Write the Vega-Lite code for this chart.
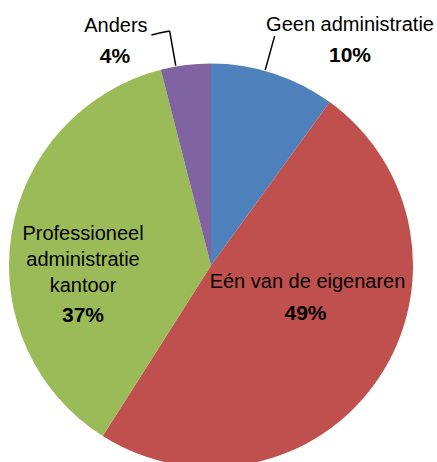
{
  "$schema": "https://vega.github.io/schema/vega-lite/v6.json",
  "width": 422,
  "height": 401,
  "autosize": {"type": "none"},
  "padding": {"left": 0, "top": 65, "right": 15, "bottom": 0},
  "background": "white",
  "config": {"view": {"stroke": null}, "font": "Liberation Sans", "text": {"font": "Liberation Sans", "color": "black"}},
  "data": {
    "values": [
      {"cat": "Geen administratie", "share": 0.10, "idx": 1},
      {"cat": "Eén van de eigenaren", "share": 0.49, "idx": 2},
      {"cat": "Professioneel administratie kantoor", "share": 0.37, "idx": 3},
      {"cat": "Anders", "share": 0.04, "idx": 4}
    ]
  },
  "encoding": {
    "theta": {"field": "share", "type": "quantitative", "stack": true},
    "order": {"field": "idx", "type": "quantitative"}
  },
  "layer": [
    {
      "mark": {"type": "arc", "radius": 202, "strokeWidth": 0},
      "encoding": {
        "color": {
          "field": "cat",
          "type": "nominal",
          "scale": {
            "domain": ["Geen administratie", "Eén van de eigenaren", "Professioneel administratie kantoor", "Anders"],
            "range": ["#4F81BD", "#C0504D", "#9BBB59", "#8064A2"]
          },
          "legend": null
        }
      }
    },
    {
      "mark": {"type": "arc", "radius": 238, "radius2": 203, "padAngle": 3, "thetaOffset": -0.0436, "fillOpacity": 0, "strokeWidth": 1.5},
      "encoding": {
        "stroke": {"condition": {"test": "datum.cat === 'Geen administratie'", "value": "black"}, "value": "transparent"}
      }
    },
    {
      "mark": {"type": "arc", "radius": 238, "radius2": 203, "padAngle": 3, "thetaOffset": -0.0489, "fillOpacity": 0, "strokeWidth": 1.5},
      "encoding": {
        "stroke": {"condition": {"test": "datum.cat === 'Anders'", "value": "black"}, "value": "transparent"}
      }
    },
    {
      "mark": {"type": "arc", "radius": 238, "radius2": 238, "padAngle": 0.122, "thetaOffset": -0.0881, "fillOpacity": 0, "strokeWidth": 1.5},
      "encoding": {
        "stroke": {"condition": {"test": "datum.cat === 'Anders'", "value": "black"}, "value": "transparent"}
      }
    },
    {
      "mark": {"type": "text", "radius": 272.6, "thetaOffset": 0.221, "fontSize": 20, "align": "center", "baseline": "alphabetic"},
      "encoding": {"text": {"condition": {"test": "datum.cat === 'Geen administratie'", "field": "cat", "type": "nominal"}, "value": ""}}
    },
    {
      "mark": {"type": "text", "radius": 272.6, "thetaOffset": 0.221, "dy": 31, "fontSize": 21, "fontWeight": "bold", "align": "center", "baseline": "alphabetic"},
      "encoding": {"text": {"condition": {"test": "datum.cat === 'Geen administratie'", "field": "share", "type": "quantitative", "format": ".0%"}, "value": ""}}
    },
    {
      "mark": {"type": "text", "radius": 99.1, "thetaOffset": -0.368, "fontSize": 20, "align": "center", "baseline": "alphabetic"},
      "encoding": {"text": {"condition": {"test": "datum.cat === 'Eén van de eigenaren'", "field": "cat", "type": "nominal"}, "value": ""}}
    },
    {
      "mark": {"type": "text", "radius": 99.1, "thetaOffset": -0.368, "dx": -2, "dy": 32, "fontSize": 21, "fontWeight": "bold", "align": "center", "baseline": "alphabetic"},
      "encoding": {"text": {"condition": {"test": "datum.cat === 'Eén van de eigenaren'", "field": "share", "type": "quantitative", "format": ".0%"}, "value": ""}}
    },
    {
      "mark": {"type": "text", "radius": 130.5, "thetaOffset": 0.0396, "fontSize": 20, "lineHeight": 26, "align": "center", "baseline": "alphabetic"},
      "encoding": {"text": {"condition": {"test": "datum.cat === 'Professioneel administratie kantoor'", "value": ["Professioneel", "administratie", "kantoor"]}, "value": ""}}
    },
    {
      "mark": {"type": "text", "radius": 130.5, "thetaOffset": 0.0396, "dy": 82, "fontSize": 21, "fontWeight": "bold", "align": "center", "baseline": "alphabetic"},
      "encoding": {"text": {"condition": {"test": "datum.cat === 'Professioneel administratie kantoor'", "field": "share", "type": "quantitative", "format": ".0%"}, "value": ""}}
    },
    {
      "mark": {"type": "text", "radius": 252.1, "thetaOffset": -0.261, "fontSize": 20, "align": "center", "baseline": "alphabetic"},
      "encoding": {"text": {"condition": {"test": "datum.cat === 'Anders'", "field": "cat", "type": "nominal"}, "value": ""}}
    },
    {
      "mark": {"type": "text", "radius": 252.1, "thetaOffset": -0.261, "dx": -1, "dy": 31, "fontSize": 21, "fontWeight": "bold", "align": "center", "baseline": "alphabetic"},
      "encoding": {"text": {"condition": {"test": "datum.cat === 'Anders'", "field": "share", "type": "quantitative", "format": ".0%"}, "value": ""}}
    }
  ]
}
